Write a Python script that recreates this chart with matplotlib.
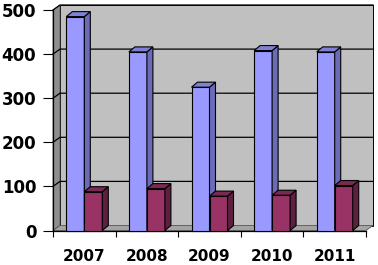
#!/usr/bin/env python3
"""Pseudo-3D clustered column chart, 2007-2011, two series."""

import matplotlib
matplotlib.use("Agg")
import matplotlib.pyplot as plt
from matplotlib.patches import Polygon

years = ["2007", "2008", "2009", "2010", "2011"]
series_a = [485, 405, 325, 408, 405]
series_b = [88, 95, 78, 80, 102]
y_ticks = [0, 100, 200, 300, 400, 500]

BLUE = ("#9999FF", "#6B6BB8", "#8080D6")     # front, side, top
RED = ("#993366", "#5E1F40", "#7A2952")
WALL = "#C0C0C0"
SIDE_WALL = "#8E8E8E"
FLOOR = "#A4A4A4"

W, H = 378, 265
fig = plt.figure(figsize=(W / 100, H / 100), dpi=100)
fig.patch.set_facecolor("white")

# front plane of the plot, in pixels
left, right, bottom, top = 53, 366, 230.5, 10
ax = fig.add_axes([left / W, (H - bottom) / H, (right - left) / W, (bottom - top) / H])
ax.set_xlim(-0.5, len(years) - 0.5)
ax.set_ylim(0, 500)
ax.set_facecolor("none")

# pixel -> data conversion for the depth offset
px_x = (right - left) / len(years)
px_y = (bottom - top) / 500
wall_dx, wall_dy = 7 / px_x, 5 / px_y
bar_dx, bar_dy = 6 / px_x, 5 / px_y

x0, x1 = -0.5, len(years) - 0.5


def poly(pts, fc, ec="black", lw=0.8, z=1):
    ax.add_patch(Polygon(pts, closed=True, facecolor=fc, edgecolor=ec,
                         linewidth=lw, zorder=z, clip_on=False))


# back wall, side wall, floor
poly([(x0 + wall_dx, wall_dy), (x1 + wall_dx, wall_dy),
      (x1 + wall_dx, 500 + wall_dy), (x0 + wall_dx, 500 + wall_dy)], WALL, lw=0.7, z=0)
poly([(x0, 0), (x0 + wall_dx, wall_dy), (x0 + wall_dx, 500 + wall_dy), (x0, 500)],
     SIDE_WALL, ec="#555555", lw=0.6, z=0.5)
poly([(x0, 0), (x1, 0), (x1 + wall_dx, wall_dy), (x0 + wall_dx, wall_dy)],
     FLOOR, ec="#555555", lw=0.6, z=0.5)

# gridlines across the side and back walls
for v in y_ticks[1:]:
    ax.plot([x0, x0 + wall_dx, x1 + wall_dx], [v, v + wall_dy, v + wall_dy],
            color="black", linewidth=0.9, zorder=0.8, clip_on=False)


def bar3d(xl, w, h, colors):
    front, side, topc = colors
    poly([(xl, 0), (xl + w, 0), (xl + w, h), (xl, h)], front, z=3)
    poly([(xl + w, 0), (xl + w + bar_dx, bar_dy), (xl + w + bar_dx, h + bar_dy), (xl + w, h)],
         side, z=3)
    poly([(xl, h), (xl + w, h), (xl + w + bar_dx, h + bar_dy), (xl + bar_dx, h + bar_dy)],
         topc, z=3)


bw = 18 / px_x
for i, (a, b) in enumerate(zip(series_a, series_b)):
    bar3d(i - bw, bw, a, BLUE)
    bar3d(i, bw, b, RED)

# axes styling
for s in ("top", "right"):
    ax.spines[s].set_visible(False)
ax.spines["left"].set_linewidth(0.9)
ax.spines["bottom"].set_linewidth(0.9)
ax.spines["left"].set_zorder(2)
ax.spines["bottom"].set_zorder(2)

ax.set_yticks(y_ticks)
ax.set_yticklabels([str(v) for v in y_ticks], fontsize=12, fontweight="bold",
                   family="DejaVu Sans")
ax.tick_params(axis="y", direction="out", length=7, width=0.8, pad=5)

ax.set_xticks(range(len(years)))
ax.set_xticklabels(years, fontsize=11, fontweight="bold", family="DejaVu Sans")
ax.set_xticks([x0 + k for k in range(len(years) + 1)], minor=True)
ax.tick_params(axis="x", which="major", length=0, pad=13.5)
ax.tick_params(axis="x", which="minor", direction="out", length=4.3, width=0.8)

fig.savefig("out.png", dpi=100)
